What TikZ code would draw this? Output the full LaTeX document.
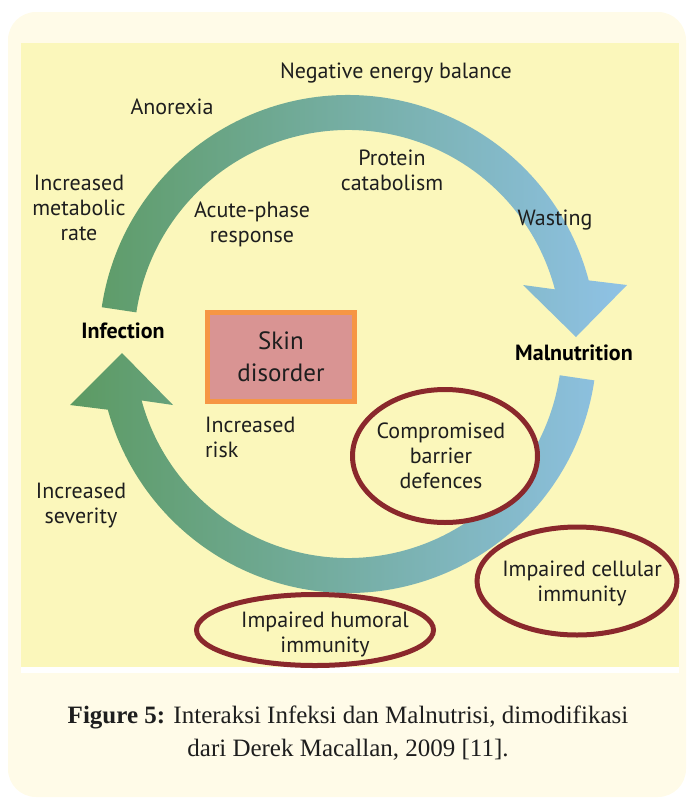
\documentclass[tikz,border=0pt]{standalone}
\usepackage{fontspec}
\setmainfont{Liberation Serif}
\newfontfamily\labelfont{PT Sans}
\usetikzlibrary{shapes.geometric}

\definecolor{panelyellow}{RGB}{251,247,187}
\definecolor{cardcream}{RGB}{255,251,232}
\definecolor{ringgreen}{RGB}{92,154,98}
\definecolor{ringblue}{RGB}{143,194,230}
\definecolor{boxorange}{RGB}{246,150,68}
\definecolor{boxpink}{RGB}{217,148,147}
\definecolor{ovalred}{RGB}{138,40,44}
\definecolor{inkgray}{RGB}{30,30,30}

\begin{document}
\begin{tikzpicture}[x=1pt, y=1pt,
		lbl/.style  = {font=\labelfont\fontsize{22}{25}\selectfont, align=center, inner sep=0pt, text=inkgray},
		key/.style  = {lbl, font=\labelfont\bfseries\fontsize{22}{25}\selectfont, text=black},
		oval/.style = {ellipse, draw=ovalred, line width=5pt, fill=panelyellow, inner sep=0pt},
		skin/.style = {rectangle, draw=boxorange, line width=5pt, fill=boxpink, inner sep=0pt,
			minimum width=147, minimum height=89, align=center,
			font=\labelfont\fontsize{25}{32}\selectfont, text=inkgray},
		caption/.style = {align=center, inner sep=0pt, text=inkgray, font=\fontsize{25}{33}\selectfont}]
	
	\useasboundingbox (0,0) rectangle (688,-801);
	
	% card and yellow panel
	\fill[cardcream, rounded corners=28pt] (8,-12) rectangle (686,-797);
	\fill[panelyellow] (21,-43) rectangle (679,-667);
	\fill[white] (21,-667) rectangle (679,-673);
	
	% the cycle, one shading from left to right
	\begin{scope}[shift={(348,-344)}]
		\shade[left color=ringgreen, right color=ringblue]
		(171.5:249) arc[start angle=171.5, end angle=14.8, radius=249pt]
		-- (279,59) -- (228,7) -- (175,59)
		-- (14.8:214) arc[start angle=14.8, end angle=171.5, radius=214pt] -- cycle
		(-8.4:249) arc[start angle=-8.4, end angle=-164.7, radius=249pt]
		-- (-278,-61) -- (-226,-9) -- (-175,-61)
		-- (-164.7:214) arc[start angle=-164.7, end angle=-8.4, radius=214pt] -- cycle;
	\end{scope}
	
	% the two ends of the cycle
	\node[key] (infection) at (123,-331) {Infection};
	\node[key] (malnutrition) at (574,-353) {Malnutrition};
	
	% effects along the upper arc
	\node[lbl] (negative) at (396,-73) {Negative energy balance};
	\node[lbl] (anorexia) at (172,-107) {Anorexia};
	\node[lbl] (metabolic) at (79,-208) {Increased\\metabolic\\rate};
	\node[lbl] (protein) at (392,-170) {Protein\\catabolism};
	\node[lbl] (acute) at (252,-224) {Acute-phase\\response};
	\node[lbl] (wasting) at (555,-220) {Wasting};
	
	% skin disorder in the middle
	\node[skin] (skin) at (281,-357) {Skin\\disorder};
	\node[lbl, align=left, anchor=west] (risk) at (205,-437) {Increased\\risk};
	\node[lbl] (severity) at (81,-506) {Increased\\severity};
	
	% immune defects, circled
	\node[oval, minimum width=185, minimum height=133] (barrier) at (445,-456) {};
	\node[lbl] (barriertxt) at (441,-456) {Compromised\\barrier\\defences};
	\node[oval, minimum width=200, minimum height=108] (cellular) at (577,-581) {};
	\node[lbl] (cellulartxt) at (582,-583) {Impaired cellular\\immunity};
	\node[oval, minimum width=237, minimum height=71] (humoral) at (315,-630) {};
	\node[lbl] (humoraltxt) at (325,-634) {Impaired humoral\\immunity};
	
	% caption below the panel
	\node[caption] (cap) at (348,-733) {\textbf{Figure 5:} Interaksi Infeksi dan Malnutrisi, dimodifikasi\\dari Derek Macallan, 2009 [11].};
\end{tikzpicture}
\end{document}
